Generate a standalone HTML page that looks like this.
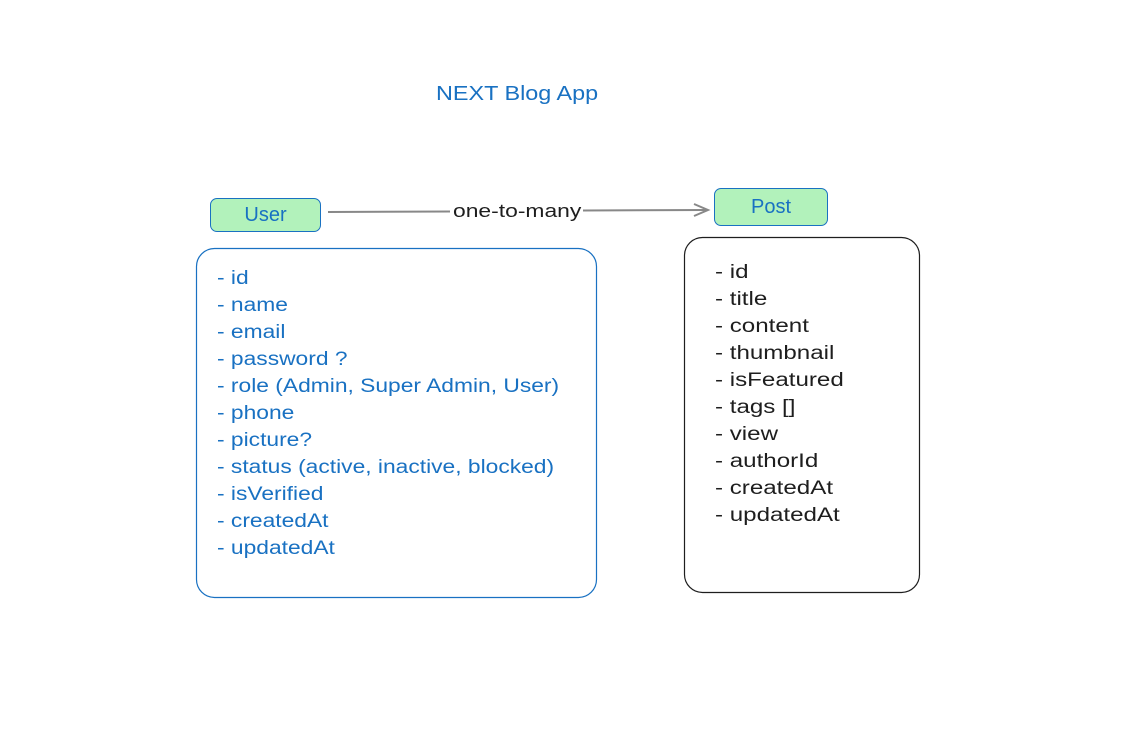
<!DOCTYPE html>
<html><head><meta charset="utf-8"><style>
body{margin:0;width:1121px;height:736px;background:#fff;overflow:hidden;position:relative;font-family:"Liberation Sans",sans-serif}
.a{position:absolute}
.t{position:absolute;font-size:19px;line-height:27px;white-space:pre;transform-origin:0 0}
</style></head><body>
<div class="a" style="left:436px;top:83px;font-size:20px;color:#1971c2;transform:scaleX(1.17);transform-origin:0 0">NEXT Blog App</div>
<div class="a" style="left:210px;top:198px;width:111px;height:34px;background:#b2f2bb;border:1px solid #1971c2;border-radius:7px;box-sizing:border-box;text-align:center;line-height:32px;font-size:20px;color:#1971c2">User</div>
<div class="a" style="left:714px;top:188px;width:114px;height:38px;background:#b2f2bb;border:1px solid #1971c2;border-radius:7px;box-sizing:border-box;text-align:center;line-height:36px;font-size:20px;color:#1971c2">Post</div>
<svg class="a" style="left:0;top:0" width="1121" height="736">
<line x1="328" y1="212" x2="450" y2="211.5" stroke="#888" stroke-width="2"/>
<line x1="583" y1="210.5" x2="707" y2="210" stroke="#888" stroke-width="2"/>
<polyline points="694,204 708,210 694,216" fill="none" stroke="#888" stroke-width="2"/>
<rect x="196.5" y="248.5" width="400" height="349" rx="18" fill="none" stroke="#1971c2" stroke-width="1.2"/>
<rect x="684.5" y="237.5" width="235" height="355" rx="18" fill="none" stroke="#1e1e1e" stroke-width="1.2"/>
</svg>
<div class="a" style="left:453px;top:201px;font-size:18px;color:#1e1e1e;transform:scaleX(1.27);transform-origin:0 0">one-to-many</div>
<div class="t" style="left:217px;top:265px;color:#1971c2;transform:scaleX(1.2)">- id
- name
- email
- password ?
- role (Admin, Super Admin, User)
- phone
- picture?
- status (active, inactive, blocked)
- isVerified
- createdAt
- updatedAt</div>
<div class="t" style="left:715px;top:259px;color:#1e1e1e;transform:scaleX(1.27)">- id
- title
- content
- thumbnail
- isFeatured
- tags []
- view
- authorId
- createdAt
- updatedAt</div>
</body></html>
